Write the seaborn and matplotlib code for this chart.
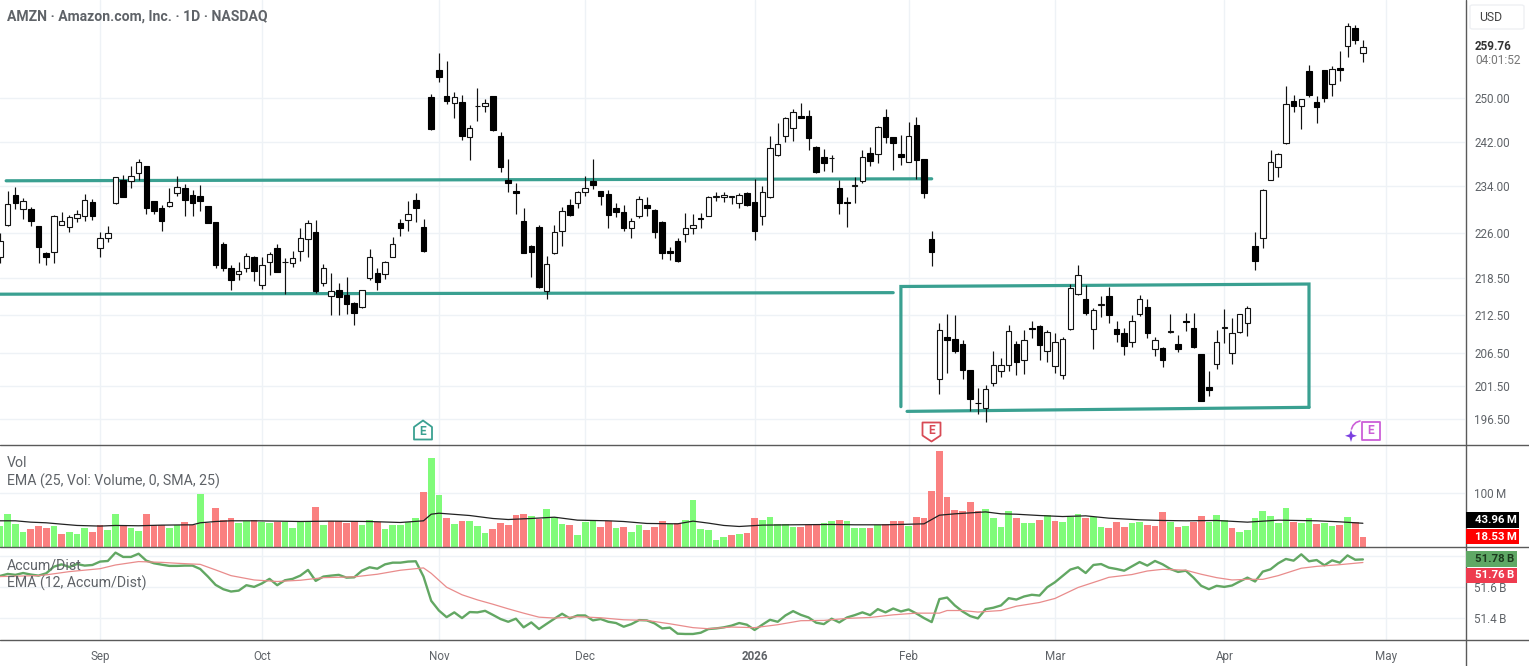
import matplotlib
matplotlib.use("Agg")
import matplotlib.pyplot as plt
from matplotlib.patches import Polygon, Rectangle, FancyBboxPatch
from matplotlib.lines import Line2D
import numpy as np
import pandas as pd
import seaborn as sns

# ---------- data ----------
opens = [221.9,227.35,232.55,230.15,230,227.1,222.65,222.75,227.35,227.05,
228.5,228.95,231.35,223.5,225.1,231.2,235.2,235,236.3,237.6,
231.5,230.25,230.6,232.9,233.7,232.55,232.4,230.6,227.8,224.1,
220.1,219.1,220.1,222,217.3,221.05,223.5,221.05,220.9,222.9,
224.95,226.2,217.6,215.5,216.6,215.7,214.5,213.75,218.45,219.3,
219.1,222,227.7,228.2,231.65,227.05,250.2,255.4,250.5,249.05,
249.25,242.9,248.5,248.6,250.4,243.1,235.1,233.25,228.1,223.75,
227,216.3,222.6,226.3,230.8,231.2,233.1,234.9,233.2,232.7,
230.3,229.6,226.75,228.8,230.8,229.9,227.9,223,224.6,225.8,
226.8,228.55,228.95,232.15,232.1,232.2,231.2,232.85,231.3,228.9,
232.1,239.5,243.1,244.55,246.75,246.7,241.1,239.25,239.05,233.7,
231.3,234.05,234.9,240,239.7,246.5,242.8,239.8,238.3,245,
238.9,224.9,202.6,209,208.7,208,203.9,199,198.15,202,
203.75,204.65,208,205.5,210.5,210.7,206.8,204.55,203.1,210.3,
215.8,215,210.3,214.05,215.6,210.25,209.6,208.25,212.6,213.75,
207.1,207.35,209.75,207.9,211.6,210.5,206.4,201.4,204.8,210.5,
206.5,209.75,211.2,223.75,225.2,235.2,237.4,241.7,249.4,248.6,
255.15,249.3,255.25,252.7,255.65,260,263.45,258.55]

highs = [226,233.2,233.9,232,230.4,227.15,222.75,229.1,229.6,229.05,
229.9,232.7,231.8,226.2,227.2,235.7,236.1,237.6,238.9,237.65,
231.55,230.7,233.75,235.9,234.4,233.35,234.2,230.65,227.85,224.5,
220.55,221.1,222.65,222.1,222,222.8,224.1,221.8,222.9,226.8,
228.2,228.25,220.8,219.3,217.6,218.7,214.55,216.6,223.3,220.1,
221.3,225.3,228.4,231.5,232.8,228.4,250.8,258.7,257.1,251.2,
250.6,245,251.9,249.9,250.5,243.8,238.8,234.6,230.2,224,
227.4,222.2,227.3,230.4,231.8,233.25,235.9,238.9,233.25,233.4,
231.2,230.8,228.55,232.4,232.1,230,228,223.7,225.2,229.35,
229.2,229.4,232.4,233,233,232.4,232.8,233,235.3,234,
243.1,245.4,246.55,247.9,249.05,247.8,241.15,240.7,239.6,235.05,
232.2,235.7,240.5,241,244.85,247.9,242.9,243.25,245.6,246.55,
238.95,226.3,211.3,212.6,212.5,208.5,203.95,201.2,201.65,206.9,
205.7,211,208.4,210.2,211.5,211,210.2,209.6,209.1,217.5,
220.55,217.35,213.6,215.55,216.95,211.6,210.5,212.5,215.65,215,
209.1,207.5,212.65,209.3,212.9,212.75,206.45,203.8,210.2,213.5,
212.1,212.65,213.9,226.1,233.6,240.5,239.95,252.35,250.65,249.9,
256.3,250.45,255.3,256.15,258.95,264.45,264.05,261.2]

lows = [221,227.1,230,228.4,227.15,221,220.6,221,227.3,226.1,
227.85,228.1,228.2,221.9,224.4,230.95,232.1,233.8,235.2,229.2,
229.3,226.4,230.4,232.3,228.8,228.95,229.8,227.6,220.2,219.6,
216.6,218.2,219.5,217.95,216.7,219,219.4,215.95,220.3,221.3,
221.9,216.05,217.1,212.5,212.5,212.7,211,213.6,218.1,216.6,
218.3,221.9,225.5,226.25,227.9,222.8,244.1,253,248.9,246.25,
242.3,238.6,245.8,247.4,243.9,236.5,233,229.25,222.6,218.6,
216.8,215.1,222.5,223.85,228.8,230.25,232.3,233.6,230.7,226.9,
228.65,226.25,225.1,228.55,228.8,225.1,221.6,221.4,221.15,224.5,
225.8,226.8,228.9,231.5,231.3,231,230.25,230.6,224.85,227.3,
232,239.45,241.95,242.2,246.3,240.5,236.3,236.65,236.6,229.3,
227,231.05,234.6,237.6,238.1,241.7,236.9,237.75,238.25,235.4,
231.9,220.4,200.3,203.4,206.5,202.6,197.7,197.3,196.1,201.5,
202.8,203.75,203.2,203.3,208.9,205.4,205.2,203.5,202.6,210.2,
215.65,212.5,207.2,212.25,211.25,208.2,206.3,207.4,212.35,208.9,
206.15,204.4,209.6,206.7,209.95,207.3,199.2,200,204.15,208.15,
204.9,209.65,209.2,219.75,223.4,235.15,235.75,241.65,247.4,244.35,
250.25,245.4,249.35,250.45,253.3,257.8,260.4,256.8]

closes = [224.7,230.95,231.05,231.5,228,223.7,221.9,228.9,228,228.7,
229.2,231.65,228.95,225.2,225.9,235.6,232.2,235.8,238.3,230.25,
229.8,228.1,231.3,233.9,231.65,231.2,231.5,227.7,220.7,220.2,
218.2,219.7,222.2,219.6,220.6,222.5,219.5,221.1,221.8,225.1,
227.7,216.3,220.1,216.3,215.45,214.25,212.85,216.5,222,217.9,
221.05,224.1,226.9,229.2,230.25,222.9,244.25,254.1,249.4,250.3,
243.1,244.4,248.55,249.2,244.2,237.5,234.6,232.85,222.65,222.75,
217,220.8,226.2,229.75,229,233.1,233.8,234.25,232.4,229.1,
229.5,226.9,228,231.8,230.3,226.15,222.65,222.65,221.3,226.8,
227.3,228.4,232.1,232.4,232.5,232.25,232.5,230.7,226.4,233,
240.85,241.6,246.4,247.5,246.4,242.6,236.5,238.15,239.1,231.05,
231.2,234.3,239.2,238.45,244.75,242.9,241.7,239.2,243,238.6,
232.9,222.75,210.2,208.6,206.9,204,199.5,198.95,201.1,204.65,
204.75,209.9,205.2,208.5,210.35,207.85,209.85,208.3,208.7,216.8,
218.95,212.9,213.3,214.2,212.45,209.45,207.6,211.6,215,209.7,
208.6,205.4,210,207.2,211.4,207.5,199.3,200.9,208.25,210.55,
209.7,212.6,213.6,221.3,233.45,238.35,239.85,249,248.6,249.85,
250.65,248.4,250,255.45,255.25,263.9,261.15,259.76]

volume = [38.7,62,41.7,27.6,32.5,38.7,34.4,38.7,24.5,27.6,
23.3,35.6,27.6,39.9,31.3,60.7,39.9,35.6,29.4,62,
39.9,40.5,35.6,39.9,45.4,39.9,98.8,44.8,71.8,50.3,
54.6,44.2,47.9,49.7,46,43.6,46.6,46,34.4,46.6,
46.6,73.6,39.9,47.9,47.9,44.2,47.9,39.9,50.3,47.2,
33.7,40.5,39.9,47.2,52.8,101.8,165.6,96.9,52.8,41.7,
47.9,47.9,38.7,25.8,33.7,43.6,39.9,60.1,62,58.3,
52.1,69.9,55.2,41.7,39.9,22.7,45.4,47.9,36.8,47.9,
35.6,36.8,27.6,39.9,30.7,36.8,48.5,41.7,44.8,50.3,
86.5,33.7,30.7,12.9,17.8,21.5,24.5,26.4,52.8,50.9,
55.8,42.9,41.7,36.8,36.8,39.9,42.9,44.8,47.9,49.7,
47.9,34.4,35.6,35.6,39.9,42.9,47.9,47.9,38.7,56.4,
52.8,103,177.9,92.6,68.7,67.5,84,66.9,69.9,52.8,
36.2,66.9,54.6,43.6,43.6,49.7,58.9,47.9,45.4,55.2,
62,52.8,56.4,36.8,35.6,46,36.8,43.6,46.6,39.9,
38.7,65.6,46.6,36.8,38.7,47.2,57.7,46.6,58.9,49.1,
34.4,27.6,30.7,52.8,66.9,57.7,44.2,73,45.4,43.6,
52.8,41.7,44.8,38.7,39.9,56.4,46.6,18.53]

# u = volume bar of a session closing up, d = closing down
vol_dir = ("uuuudddudu" "uudduuduud" "dduudduddd" "duuduuduuu" "ududddduud"
           "uuuuuduudu" "duuudddddu" "duuuduuudd" "uduudddudu" "uuuuududdu"
           "uuuuddduud" "uuududddud" "dddddddduu" "uuduududuu" "uduuddduud"
           "ddududduuu" "duuuuuuudu" "uduududd")

ema_vol_idx = [0,2,4,6,8,10,13,15,18,21,25,26,28,30,33,36,39,43,48,52,55,56,57,61,64,
66,69,72,75,79,81,84,88,90,92,94,96,99,103,108,111,115,120,122,124,128,130,132,
135,138,141,144,148,151,154,158,162,166,171,174,177]
ema_vol = [48.5,48.5,46,44.8,42.3,39.9,38.7,39.9,39.3,40.5,41.1,44.8,47.2,48.5,48.5,47.9,47.2,47.9,47.2,45.4,48.5,60.7,62.6,58.3,52.8,
50.9,52.8,55.2,49.7,48.5,47.2,43.6,42.9,47.9,44.2,39.9,38,40.5,41.1,41.7,41.1,41.1,42.9,58.9,61.4,65,61.4,60.7,
58.3,56.4,57.7,53.4,50.3,49.1,48.5,49.1,46,49.7,48.5,46.6,43.96]

accum_dist = [51.673,51.686,51.680,51.692,51.682,51.675,51.690,51.733,51.748,51.731,
51.750,51.740,51.744,51.766,51.770,51.824,51.796,51.796,51.817,51.772,
51.755,51.746,51.738,51.738,51.740,51.740,51.718,51.669,51.615,51.587,
51.572,51.578,51.613,51.602,51.624,51.654,51.613,51.645,51.654,51.675,
51.712,51.641,51.669,51.675,51.680,51.662,51.664,51.707,51.729,51.720,
51.748,51.759,51.759,51.766,51.768,51.669,51.512,51.449,51.406,51.437,
51.400,51.439,51.437,51.447,51.421,51.394,51.376,
51.396,51.340,51.372,51.329,51.363,51.396,51.428,51.398,51.417,51.417,
51.385,51.394,51.376,51.368,51.344,51.361,51.387,51.385,51.366,51.333,
51.338,51.299,51.297,51.297,51.305,51.329,51.333,51.340,51.351,51.368,
51.357,51.323,51.357,51.389,51.376,51.417,51.445,51.421,51.404,51.370,
51.361,51.396,51.372,51.404,51.419,51.437,51.419,51.458,51.437,51.462,
51.443,51.456,51.430,51.400,51.374,51.523,51.533,51.482,51.443,51.413,
51.398,51.458,51.467,51.482,51.529,51.520,
51.540,51.551,51.546,51.600,51.632,51.673,51.714,51.729,51.692,51.744,
51.750,51.727,51.718,51.707,51.735,51.763,51.740,51.770,51.748,51.718,
51.699,51.707,51.662,51.609,51.587,51.609,51.602,51.611,51.637,51.662,
51.637,51.701,51.716,51.755,51.783,51.772,51.813,51.768,51.776,51.742,
51.774,51.759,51.806,51.778,51.78]

ema_ad_idx = [0,5,6,9,13,15,18,21,23,26,28,30,33,36,39,42,46,49,52,55,56,58,60,62,64,66,
68,70,72,75,78,81,84,87,90,92,95,98,101,104,107,110,113,116,119,122,123,125,127,130,132,
135,137,140,143,144,147,149,151,154,156,158,160,162,164,166,169,171,174,177]
ema_ad = [51.669,51.675,51.680,51.701,51.720,51.744,51.766,51.761,51.755,51.748,51.712,51.675,51.647,51.637,51.645,51.662,51.667,51.684,51.710,51.725,51.690,51.600,51.551,51.518,51.490,51.460,
51.432,51.406,51.400,51.409,51.402,51.389,51.385,51.363,51.338,51.331,51.342,51.338,51.357,51.383,51.385,51.398,51.404,51.421,51.432,51.432,51.449,51.449,51.439,51.449,51.477,
51.501,51.527,51.598,51.647,51.664,51.682,51.705,51.716,51.710,51.684,51.662,51.647,51.651,51.651,51.675,51.723,51.735,51.746,51.76]

price_ticks = [196.5,201.5,206.5,212.5,218.5,226,234,242,250]
vol_ticks = [100]
ad_ticks = [51.4,51.6,51.8]
date_idx = [13,34,57,76,98,118,137,159,180]
date_labels = ["Sep","Oct","Nov","Dec","2026","Feb","Mar","Apr","May"]

# drawn trend lines, as (bar index, price) pairs
resistance_x, resistance_y = [0.8,121], [235.0,235.35]
support_x, support_y = [0,116], [215.85,216.1]
box_x = [117,117,170,170]
box_y = [198.4,217.1,217.5,198.3]
box_floor_x, box_floor_y = [117.8,170], [197.7,198.3]

title = "AMZN \u00b7 Amazon.com, Inc. \u00b7 1D \u00b7 NASDAQ"

# ---------- figure ----------
W, H = 1529, 666
sns.set_theme(style="white")
plt.rcParams["font.family"] = ["Roboto", "DejaVu Sans"]
GREY = "#5f6368"
GRID = "#eef2f6"
TEAL = "#3aa091"

fig = plt.figure(figsize=(W/100, H/100), dpi=100, facecolor="white")

def axes_px(left, top, right, bottom):
    return fig.add_axes([left/W, 1-bottom/H, (right-left)/W, (bottom-top)/H])

def P(x, y):
    return x/W, 1-y/H

ax_p = axes_px(0, 0, 1465, 445)
ax_v = axes_px(0, 446, 1465, 547)
ax_a = axes_px(0, 548, 1465, 640)

n = len(closes)
idx = np.arange(n)
o, h, l, c = map(np.array, (opens, highs, lows, closes))
XMAX = 1465/7.7

df = pd.DataFrame({"idx": idx, "vol": volume,
                   "dir": ["up" if v == "u" else "down" for v in vol_dir]})

# price pane
ax_p.set_yscale("log")
for xs, ys in ((resistance_x, resistance_y), (support_x, support_y),
               (box_x, box_y), (box_floor_x, box_floor_y)):
    ax_p.plot(xs, ys, color=TEAL, lw=2.3, solid_capstyle="round", solid_joinstyle="miter", zorder=2)
ax_p.vlines(idx, l, h, color="#111111", lw=0.85, zorder=3)
is_up = c >= o
ax_p.bar(idx[is_up], (c-o)[is_up], bottom=o[is_up], width=0.72, facecolor="white",
         edgecolor="#111111", linewidth=0.8, zorder=4)
ax_p.bar(idx[~is_up], (o-c)[~is_up], bottom=c[~is_up], width=0.72, facecolor="black",
         edgecolor="black", linewidth=0.8, zorder=4)
ax_p.set_ylim(192.78, 269.1)
ax_p.set_yticks(price_ticks)
ax_p.set_yticklabels([f"{t:.2f}" for t in price_ticks])
ax_p.minorticks_off()

# volume pane
sns.barplot(data=df, x="idx", y="vol", hue="dir", hue_order=["up", "down"],
            palette={"up": "#80fb7a", "down": "#fa8080"}, dodge=False, native_scale=True,
            width=0.88, saturation=1, linewidth=0, legend=False, ax=ax_v, zorder=2)
sns.lineplot(x=ema_vol_idx, y=ema_vol, color="#222222", lw=0.9, ax=ax_v, legend=False, zorder=3,
             estimator=None)
ax_v.set_ylim(0, 187)
ax_v.set_yticks(vol_ticks)
ax_v.set_yticklabels(["100\u2009M"])

# accumulation pane
sns.lineplot(x=idx, y=accum_dist, color="#62a763", lw=1.7, ax=ax_a, legend=False, zorder=3,
             estimator=None)
sns.lineplot(x=ema_ad_idx, y=ema_ad, color="#e98c8c", lw=0.9, ax=ax_a, legend=False, zorder=4,
             estimator=None)
ax_a.set_ylim(51.258, 51.854)
ax_a.set_yticks(ad_ticks)
ax_a.set_yticklabels(["51.4\u2009B", "51.6\u2009B", ""])

for ax in (ax_p, ax_v, ax_a):
    ax.set_xlim(0, XMAX)
    ax.set_xticks(date_idx)
    ax.grid(True, color=GRID, lw=1.0, zorder=0)
    ax.set_axisbelow(True)
    ax.yaxis.tick_right()
    ax.tick_params(axis="y", length=0, pad=6.8, labelsize=8.4, labelcolor=GREY)
    ax.set_xlabel("")
    ax.set_ylabel("")
    for s in ax.spines.values():
        s.set_visible(False)
    for lab in ax.get_yticklabels():
        lab.set_horizontalalignment("left")
ax_p.tick_params(axis="x", labelbottom=False, length=0)
ax_v.tick_params(axis="x", labelbottom=False, length=0)
ax_a.set_xticklabels(date_labels)
ax_a.tick_params(axis="x", length=0, pad=7, labelsize=8.4, labelcolor=GREY)
for lab, name in zip(ax_a.get_xticklabels(), date_labels):
    if name == "2026":
        lab.set_fontweight("bold")

# pane separators
for y in (445, 547, 640):
    fig.add_artist(Line2D([0, 1], [1-y/H]*2, color="#5a5a5a", lw=1.0, transform=fig.transFigure))
fig.add_artist(Line2D([1465.5/W]*2, [0, 1], color="#5a5a5a", lw=1.0, transform=fig.transFigure))

# labels
def T(x, y, s, **kw):
    kw.setdefault("color", GREY)
    kw.setdefault("va", "center")
    fig.text(*P(x, y), s, **kw)

T(7, 17, title, fontsize=10.1, fontweight="bold")
T(7, 463, "Vol", fontsize=10.2)
T(7, 481, "EMA (25, Vol: Volume, 0, SMA, 25)", fontsize=10.2)
T(7, 565, "Accum/Dist", fontsize=10.2)
T(7, 583, "EMA (12, Accum/Dist)", fontsize=10.2)

# USD button and last price
fig.add_artist(FancyBboxPatch(P(1470, 29), 54/W, 24/H, boxstyle="round,pad=0,rounding_size=0.002",
                              transform=fig.transFigure, fc="white", ec="#eef0f3", lw=1))
T(1479, 17.5, "USD", fontsize=8.8, color="#444444")
T(1475, 47, "259.76", fontsize=8.4, color="#333333", fontweight="bold")
T(1475, 61, "04:01:52", fontsize=8.6, color="#777777")

# value tags
def tag(x0, y0, x1, y1, s, bg, fg):
    fig.add_artist(Rectangle(P(x0, y1), (x1-x0)/W, (y1-y0)/H, transform=fig.transFigure,
                             fc=bg, ec="none", zorder=5))
    fig.text(*P(1475, (y0+y1)/2), s, color=fg, fontsize=8.2, va="center", fontweight="bold", zorder=6)

tag(1466, 512, 1519, 528, "43.96\u2009M", "#000000", "white")
tag(1466, 529, 1519, 544, "18.53\u2009M", "#ff0000", "white")
tag(1466, 551, 1517, 567, "51.78\u2009B", "#5fa865", "#1c3a1e")
tag(1466, 568, 1517, 583, "51.76\u2009B", "#ee3b4f", "white")

# earnings markers
def badge(points, color, tx, ty):
    pts = [P(x, y) for x, y in points]
    fig.add_artist(Polygon(pts, closed=True, transform=fig.transFigure, fc="white", ec=color,
                           lw=1.3, joinstyle="round", zorder=5))
    fig.text(*P(tx, ty), "E", color=color, fontsize=8.6, fontweight="bold", ha="center",
             va="center", zorder=6)

badge([(414, 427), (423, 420.5), (432, 427), (432, 439.5), (414, 439.5)], "#3aa091", 423, 431.5)
badge([(922.5, 422.5), (940.5, 422.5), (940.5, 435.5), (931.5, 441.5), (922.5, 435.5)], "#d84a55", 931.5, 431)
badge([(1361.5, 421.5), (1379.5, 421.5), (1379.5, 439.5), (1361.5, 439.5)], "#cc5fd8", 1370.5, 431)
star = [(1351, 430), (1352.5, 434.3), (1357, 435.8), (1352.5, 437.3), (1351, 442),
        (1349.5, 437.3), (1345, 435.8), (1349.5, 434.3)]
fig.add_artist(Polygon([P(*p) for p in star], closed=True, transform=fig.transFigure,
                       fc="#7b3fe0", ec="none", zorder=5))
arc = [(1360, 421), (1356, 422.5), (1353, 425.5), (1351.5, 429)]
fig.add_artist(Line2D(*zip(*[P(*p) for p in arc]), color="#cc5fd8", lw=1.2,
                      transform=fig.transFigure, zorder=5))

fig.savefig("out.png", dpi=100, facecolor="white")
